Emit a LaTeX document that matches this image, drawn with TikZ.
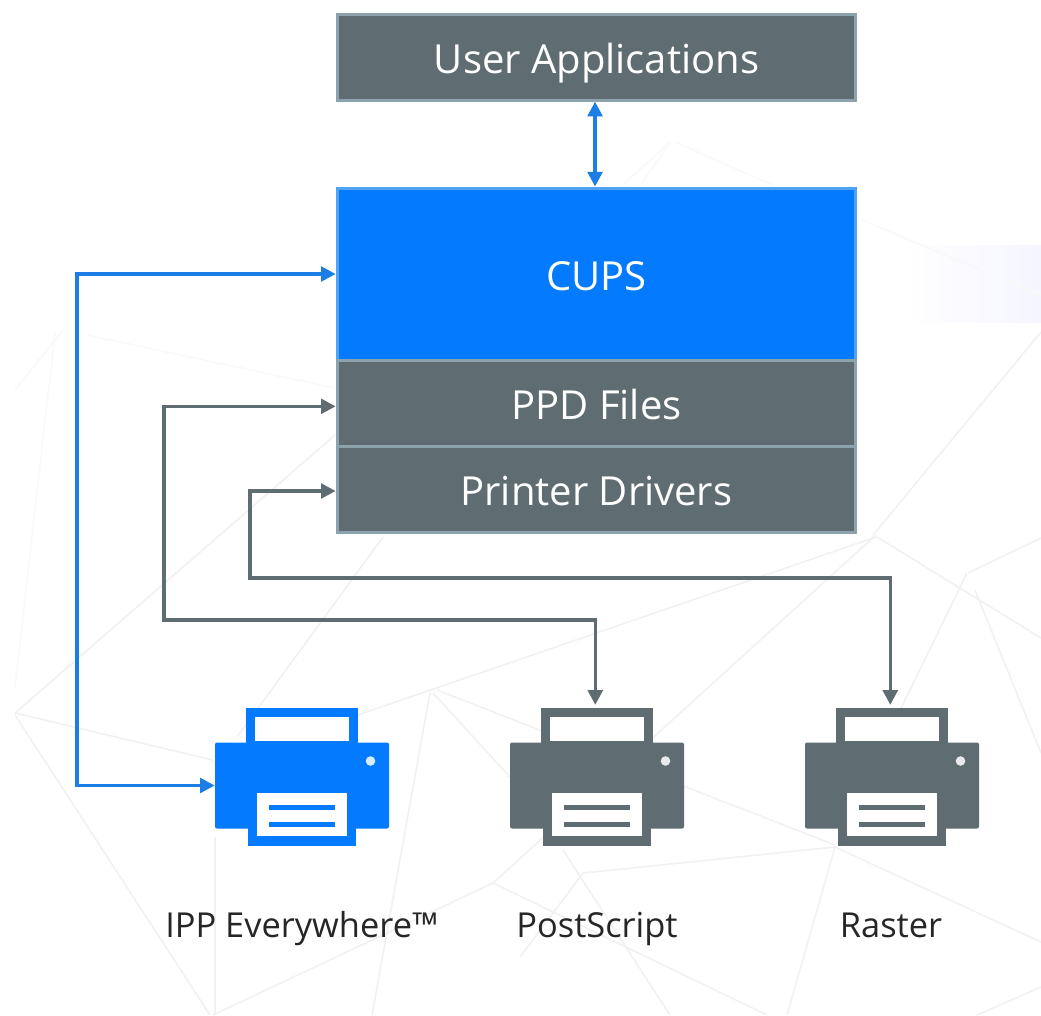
\documentclass[tikz,border=0pt]{standalone}
\usepackage{fontspec}
\setmainfont{Open Sans}
\usetikzlibrary{arrows.meta}

\definecolor{cupsblue}{HTML}{047AFF}
\definecolor{linkblue}{HTML}{1A7EE6}
\definecolor{edgeblue}{HTML}{4FA3F5}
\definecolor{slate}{HTML}{5F6C72}
\definecolor{edgeslate}{HTML}{8CA3AE}
\definecolor{meshgrey}{HTML}{F1F1F1}
\definecolor{meshpale}{HTML}{F9F9F9}

\tikzset{
	box/.style={shape=rectangle,fill=slate,draw=edgeslate,line width=2.25pt,minimum width=389pt,text=white,text height=24.5pt,text depth=0pt,font=\fontsize{30}{36}\selectfont},
	link/.style={line width=2.5pt,{Triangle[length=11pt,width=11pt]}-{Triangle[length=11pt,width=11pt]}},
	caption/.style={text=black!85,text height=18.4pt,text depth=0pt,font=\fontsize{25.8}{31}\selectfont},
	mesh/.style={draw=meshgrey,line width=1.2pt},
	meshfaint/.style={draw=meshpale,line width=1.2pt}
}

% one printer icon: name, centre x, colour
\newcommand{\printer}[3]{
	\node[shape=rectangle,fill=white,draw=#3,line width=6.75pt,minimum width=77.25pt,minimum height=24.75pt,inner sep=0pt] (#1tray) at (#2,728.5) {};
	\node[shape=rectangle,fill=#3,rounded corners=1.5pt,minimum width=130.5pt,minimum height=64.5pt,inner sep=0pt] (#1) at (#2,785.5) {};
	\node[shape=rectangle,fill=#3,minimum width=81pt,minimum height=46.5pt,inner sep=0pt] (#1tray2) at (#2,815) {};
	\node[shape=rectangle,fill=white,minimum width=67.5pt,minimum height=32.25pt,inner sep=0pt] (#1sheet) at (#2,814.5) {};
	\draw[#3,line width=3.75pt] (#2-33,807) -- (#2+33,807);
	\draw[#3,line width=3.75pt] (#2-33,824) -- (#2+33,824);
	\fill[white!85!#3] (#2+68.5,761) circle (3.6pt);
}

\begin{document}
\begin{tikzpicture}[x=0.75pt,y=-0.75pt]

	\useasboundingbox (0,0) rectangle (1041,1015);
	\fill[white] (0,0) rectangle (1041,1015);

	% background
	\shade[left color=white,right color=blue!4] (905,245) rectangle (1041,322);
	\foreach \xa/\ya/\xb/\yb in {63/330/15/390, 55/333/15/687, 87/335/335/388, 670/142/623/185, 677/143/773/185, 670/143/642/183, 862/220/1041/295}
		\draw[meshfaint] (\xa,\ya) -- (\xb,\yb);
	\foreach \xa/\ya/\xb/\yb in {335/435/15/713, 383/537/237/737, 15/713/213/760, 15/715/210/1015, 215/837/215/1015, 213/1015/493/883, 493/883/876/535, 493/883/767/1015, 430/693/372/1015, 876/537/285/740, 433/693/510/777, 437/690/835/845, 835/847/583/873, 835/847/787/1015, 835/847/1041/942, 563/850/670/1015, 583/873/520/957, 1041/987/977/1015, 967/573/887/737, 975/590/1041/753, 873/535/1041/332, 877/537/1041/638, 968/573/1041/538}
		\draw[mesh] (\xa,\ya) -- (\xb,\yb);

	% boxes
	\node[box,minimum height=64pt] (user) at (596.5,57.5) {User Applications};
	\node[box,fill=cupsblue,draw=edgeblue,minimum height=129pt] (cups) at (596.5,274) {CUPS};
	\node[box,minimum height=64.5pt] (ppd) at (596.5,403) {PPD Files};
	\node[box,minimum height=64.5pt] (drivers) at (596.5,489) {Printer Drivers};

	% printers
	\printer{ipp}{302}{cupsblue}
	\printer{ps}{597}{slate}
	\printer{raster}{892}{slate}

	\node[caption] (ipplabel) at (302,925) {IPP Everywhere™};
	\node[caption] (pslabel) at (597,925) {PostScript};
	\node[caption] (rasterlabel) at (891,925) {Raster};

	% corners of the connectors
	\coordinate (ippturn) at (77,785);
	\coordinate (ppdturn) at (164,620);
	\coordinate (driversturn) at (250,578);

	\path[draw=linkblue,link] ([xshift=-1.1pt]user.south) -- ([xshift=-1.1pt]cups.north);
	\path[draw=linkblue,link] (cups.west) -| (ippturn |- ipp.west) -- (ipp.west);
	\path[draw=slate,link] ([yshift=-2.5pt]ppd.west) -| (ppdturn) -| ([xshift=-1.3pt,yshift=2pt]pstray.north);
	\path[draw=slate,link] ([yshift=-1.5pt]drivers.west) -| (driversturn) -| ([xshift=-1.3pt,yshift=2pt]rastertray.north);

\end{tikzpicture}
\end{document}
